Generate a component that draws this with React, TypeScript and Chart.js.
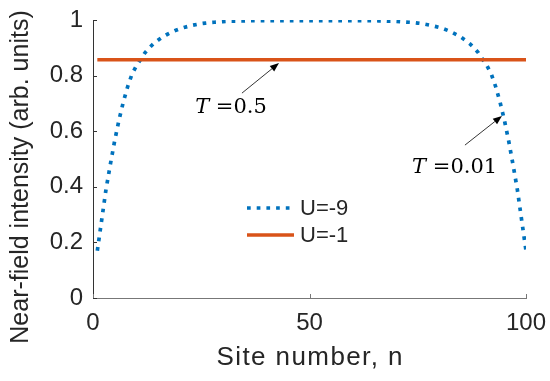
import React, { useEffect, useRef } from 'react';
import { Chart, registerables } from 'chart.js';

Chart.register(...registerables);

const siteNumbers = [
  1, 2, 3, 4, 5, 6, 7, 8, 9, 10,
  11, 12, 13, 14, 15, 16, 17, 18, 19, 20,
  21, 22, 23, 24, 25, 26, 27, 28, 29, 30,
  31, 32, 33, 34, 35, 36, 37, 38, 39, 40,
  41, 42, 43, 44, 45, 46, 47, 48, 49, 50,
  51, 52, 53, 54, 55, 56, 57, 58, 59, 60,
  61, 62, 63, 64, 65, 66, 67, 68, 69, 70,
  71, 72, 73, 74, 75, 76, 77, 78, 79, 80,
  81, 82, 83, 84, 85, 86, 87, 88, 89, 90,
  91, 92, 93, 94, 95, 96, 97, 98, 99, 100,
];

const intensityU9 = [
  0.17, 0.28, 0.39, 0.48, 0.565, 0.64, 0.705, 0.76, 0.805, 0.835,
  0.858, 0.882, 0.9, 0.915, 0.927, 0.938, 0.947, 0.955, 0.962, 0.968,
  0.973, 0.977, 0.981, 0.984, 0.987, 0.989, 0.991, 0.992, 0.993, 0.994,
  0.995, 0.996, 0.996, 0.997, 0.997, 0.998, 0.998, 0.998, 0.998, 0.998,
  0.998, 0.998, 0.998, 0.998, 0.998, 0.998, 0.998, 0.998, 0.998, 0.998,
  0.998, 0.998, 0.998, 0.998, 0.998, 0.998, 0.998, 0.998, 0.998, 0.998,
  0.998, 0.998, 0.998, 0.998, 0.998, 0.997, 0.997, 0.996, 0.996, 0.995,
  0.994, 0.993, 0.992, 0.991, 0.989, 0.987, 0.984, 0.981, 0.977, 0.973,
  0.968, 0.962, 0.955, 0.947, 0.938, 0.927, 0.915, 0.9, 0.882, 0.858,
  0.835, 0.805, 0.76, 0.705, 0.64, 0.565, 0.48, 0.39, 0.28, 0.17,
];

const intensityU1 = [
  0.857, 0.857, 0.857, 0.857, 0.857, 0.857, 0.857, 0.857, 0.857, 0.857,
  0.857, 0.857, 0.857, 0.857, 0.857, 0.857, 0.857, 0.857, 0.857, 0.857,
  0.857, 0.857, 0.857, 0.857, 0.857, 0.857, 0.857, 0.857, 0.857, 0.857,
  0.857, 0.857, 0.857, 0.857, 0.857, 0.857, 0.857, 0.857, 0.857, 0.857,
  0.857, 0.857, 0.857, 0.857, 0.857, 0.857, 0.857, 0.857, 0.857, 0.857,
  0.857, 0.857, 0.857, 0.857, 0.857, 0.857, 0.857, 0.857, 0.857, 0.857,
  0.857, 0.857, 0.857, 0.857, 0.857, 0.857, 0.857, 0.857, 0.857, 0.857,
  0.857, 0.857, 0.857, 0.857, 0.857, 0.857, 0.857, 0.857, 0.857, 0.857,
  0.857, 0.857, 0.857, 0.857, 0.857, 0.857, 0.857, 0.857, 0.857, 0.857,
  0.857, 0.857, 0.857, 0.857, 0.857, 0.857, 0.857, 0.857, 0.857, 0.857,
];

const seriesNames = ['U=-9', 'U=-1'];
const xTickValues = [0, 50, 100];
const xTickLabels = ['0', '50', '100'];
const yTickValues = [0, 0.2, 0.4, 0.6, 0.8, 1];
const yTickLabels = ['0', '0.2', '0.4', '0.6', '0.8', '1'];
const xAxisTitle = 'Site number, n';
const yAxisTitle = 'Near-field intensity (arb. units)';
const annotationValues = ['0.5', '0.01'];

// annotation anchors in data coordinates (text baseline-left, arrow tail, arrow head)
const annotationAnchors = [
  { text: [23.6, 0.665], tail: [34.4, 0.737], head: [42.95, 0.845] },
  { text: [73.7, 0.45], tail: [85.9, 0.55], head: [94.45, 0.655] },
];

const BLUE = '#0072BD';
const ORANGE = '#D95319';
const TEXT = '#262626';
const SANS = '"Liberation Sans", Arial, sans-serif';
const SERIF = '"DejaVu Serif", serif';

const decor = {
  id: 'decor',
  afterDraw(chart: any) {
    const { ctx, chartArea: ca, scales } = chart;
    const x = scales.x;
    const y = scales.y;
    ctx.save();

    // inward tick marks
    ctx.lineWidth = 1;
    ctx.strokeStyle = '#333';
    yTickValues.forEach((v) => {
      const py = Math.round(y.getPixelForValue(v)) + 0.5;
      ctx.beginPath();
      ctx.moveTo(ca.left, py);
      ctx.lineTo(ca.left + 4, py);
      ctx.stroke();
    });
    ctx.strokeStyle = '#777';
    xTickValues.forEach((v) => {
      const px = Math.round(x.getPixelForValue(v)) + 0.5;
      ctx.beginPath();
      ctx.moveTo(px, ca.bottom);
      ctx.lineTo(px, ca.bottom - 4);
      ctx.stroke();
    });

    // axis titles
    ctx.fillStyle = TEXT;
    ctx.save();
    ctx.translate(21, 177);
    ctx.rotate(-Math.PI / 2);
    ctx.font = `25px ${SANS}`;
    ctx.textAlign = 'center';
    ctx.textBaseline = 'middle';
    ctx.fillText(yAxisTitle, 0, 0);
    ctx.restore();

    ctx.save();
    ctx.font = `26px ${SANS}`;
    (ctx as any).letterSpacing = '1.4px';
    ctx.textAlign = 'center';
    ctx.textBaseline = 'alphabetic';
    ctx.fillText(xAxisTitle, (ca.left + ca.right) / 2 + 0.7, 365);
    ctx.restore();

    // legend
    const lx0 = ca.left + 154;
    const lx1 = ca.left + 199;
    const ly0 = 208;
    const ly1 = 235;
    ctx.lineCap = 'butt';
    ctx.strokeStyle = BLUE;
    ctx.lineWidth = 3.7;
    ctx.setLineDash([3.7, 6]);
    ctx.beginPath();
    ctx.moveTo(lx0, ly0);
    ctx.lineTo(lx1, ly0);
    ctx.stroke();
    ctx.setLineDash([]);
    ctx.strokeStyle = ORANGE;
    ctx.lineWidth = 3.5;
    ctx.beginPath();
    ctx.moveTo(lx0, ly1);
    ctx.lineTo(lx1 + 2, ly1);
    ctx.stroke();
    ctx.fillStyle = TEXT;
    ctx.font = `22px ${SANS}`;
    ctx.textAlign = 'left';
    ctx.textBaseline = 'middle';
    ctx.fillText(seriesNames[0], lx1 + 8, ly0 + 1);
    ctx.fillText(seriesNames[1], lx1 + 8, ly1 + 1);

    // annotations
    annotationAnchors.forEach((a, i) => {
      const tx = x.getPixelForValue(a.text[0]);
      const ty = y.getPixelForValue(a.text[1]);
      ctx.fillStyle = '#000';
      ctx.textAlign = 'left';
      ctx.textBaseline = 'alphabetic';
      ctx.font = `italic 21px ${SERIF}`;
      ctx.fillText('T', tx, ty);
      const tw = ctx.measureText('T ').width;
      ctx.font = `21px ${SERIF}`;
      ctx.fillText('=' + annotationValues[i], tx + tw, ty);

      const x0 = x.getPixelForValue(a.tail[0]);
      const y0 = y.getPixelForValue(a.tail[1]);
      const x1 = x.getPixelForValue(a.head[0]);
      const y1 = y.getPixelForValue(a.head[1]);
      const ang = Math.atan2(y1 - y0, x1 - x0);
      const hl = 9;
      const hw = 3.5;
      const bx = x1 - hl * Math.cos(ang);
      const by = y1 - hl * Math.sin(ang);
      ctx.strokeStyle = '#000';
      ctx.lineWidth = 0.8;
      ctx.beginPath();
      ctx.moveTo(x0, y0);
      ctx.lineTo(bx, by);
      ctx.stroke();
      ctx.fillStyle = '#000';
      ctx.beginPath();
      ctx.moveTo(x1, y1);
      ctx.lineTo(bx + hw * Math.sin(ang), by - hw * Math.cos(ang));
      ctx.lineTo(bx - hw * Math.sin(ang), by + hw * Math.cos(ang));
      ctx.closePath();
      ctx.fill();
    });

    ctx.restore();
  },
};

export default function App() {
  const ref = useRef<HTMLCanvasElement>(null);

  useEffect(() => {
    const canvas = ref.current;
    if (!canvas) return;
    const chart = new Chart(canvas, {
      type: 'line',
      data: {
        datasets: [
          {
            label: seriesNames[0],
            data: siteNumbers.map((n, i) => ({ x: n, y: intensityU9[i] })),
            borderColor: BLUE,
            borderWidth: 3.7,
            borderDash: [3.7, 6],
            borderCapStyle: 'butt',
            pointRadius: 0,
            fill: false,
            tension: 0,
            order: 1,
          },
          {
            label: seriesNames[1],
            data: siteNumbers.map((n, i) => ({ x: n, y: intensityU1[i] })),
            borderColor: ORANGE,
            borderWidth: 3.5,
            pointRadius: 0,
            fill: false,
            tension: 0,
            order: 0,
          },
        ],
      },
      options: {
        responsive: false,
        animation: false,
        devicePixelRatio: 1,
        layout: { padding: { left: 0, top: 20, right: 24, bottom: 0 } },
        plugins: { legend: { display: false }, tooltip: { enabled: false } },
        scales: {
          x: {
            type: 'linear',
            min: 0,
            max: 100,
            afterBuildTicks: (s: any) => {
              s.ticks = xTickValues.map((v) => ({ value: v }));
            },
            afterFit: (s: any) => {
              s.height = 83;
              s.paddingLeft = 0;
              s.paddingRight = 0;
            },
            ticks: {
              callback: (_v: any, i: number) => xTickLabels[i],
              padding: 11,
              color: TEXT,
              font: { family: SANS, size: 24 },
              maxRotation: 0,
              autoSkip: false,
            },
            grid: { display: true, drawOnChartArea: false, drawTicks: false },
            border: { display: true, color: '#777', width: 1 },
            title: { display: false },
          },
          y: {
            type: 'linear',
            min: 0,
            max: 1,
            afterBuildTicks: (s: any) => {
              s.ticks = yTickValues.map((v) => ({ value: v }));
            },
            afterFit: (s: any) => {
              s.width = 93;
              s.paddingTop = 0;
              s.paddingBottom = 0;
            },
            ticks: {
              callback: (_v: any, i: number) => yTickLabels[i],
              padding: 10,
              color: TEXT,
              font: { family: SANS, size: 24 },
              autoSkip: false,
            },
            grid: { display: true, drawOnChartArea: false, drawTicks: false },
            border: { display: true, color: '#333', width: 1 },
          },
        },
      },
      plugins: [decor],
    } as any);
    return () => chart.destroy();
  }, []);

  return (
    <div style={{ position: 'absolute', left: 0, top: 0, width: 550, height: 381, background: '#fff' }}>
      <canvas ref={ref} width={550} height={381} style={{ display: 'block' }} />
    </div>
  );
}
